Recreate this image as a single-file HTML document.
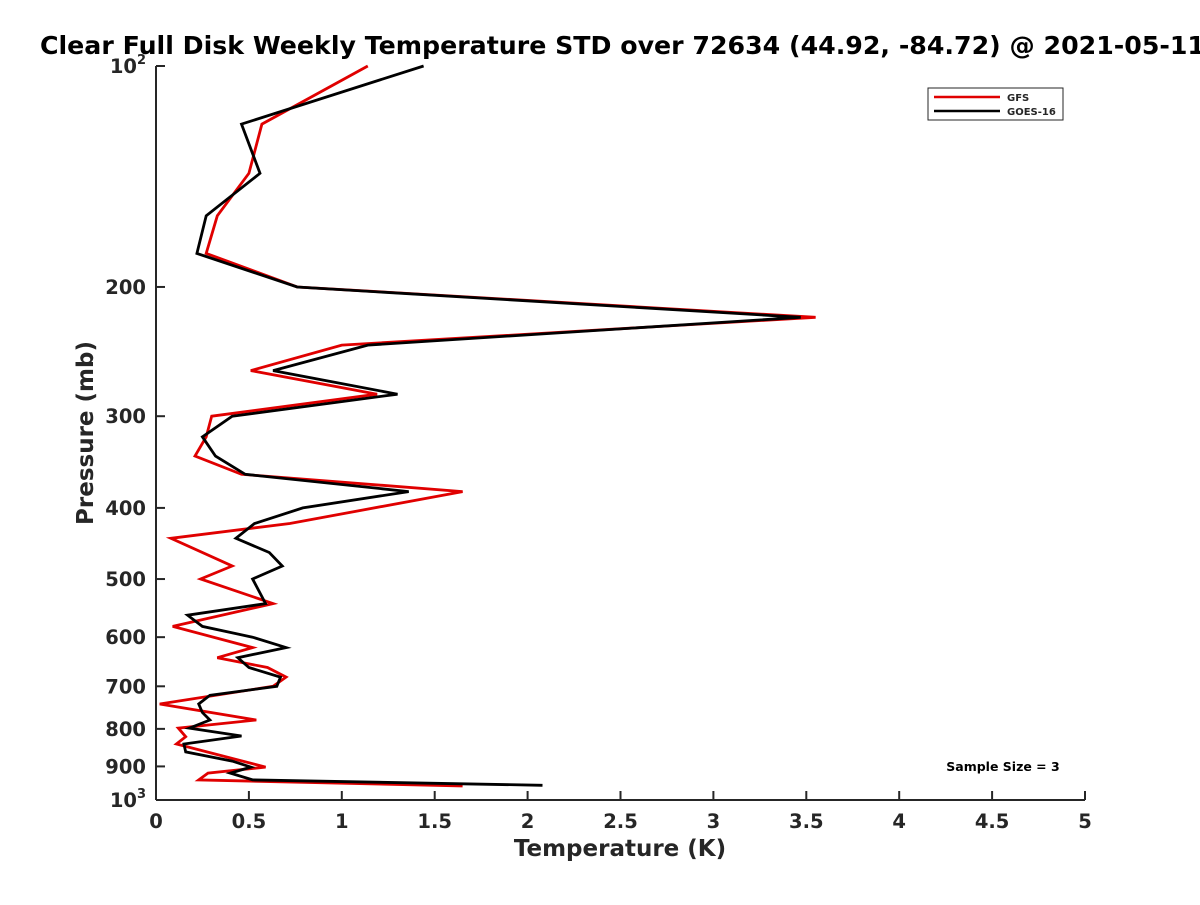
<!DOCTYPE html>
<html><head><meta charset="utf-8"><style>
body{margin:0;background:#fff;}
svg text{font-family:"DejaVu Sans","Liberation Sans",sans-serif;fill:#262626;font-weight:bold;}
</style></head><body>
<svg id="chart" width="1200" height="900">
<text x="40" y="54" text-anchor="start" font-size="25" textLength="1165" lengthAdjust="spacingAndGlyphs" style="fill:#000">Clear Full Disk Weekly Temperature STD over 72634 (44.92, -84.72) @ 2021-05-11</text>
<g id="axes"></g>
<g id="series"></g>
<g>
<rect x="928" y="88" width="135" height="32" fill="#fff" stroke="#262626" stroke-width="1"/>
<line x1="934" y1="97" x2="1000" y2="97" stroke="#e00000" stroke-width="2.5"/>
<text x="1007" y="101" font-size="10">GFS</text>
<line x1="934" y1="111" x2="1000" y2="111" stroke="#000" stroke-width="2.5"/>
<text x="1007" y="115" font-size="10">GOES-16</text>
</g>
<text x="1003" y="771" text-anchor="middle" font-size="12.5" style="fill:#000">Sample Size = 3</text>
</svg>
<script>
const gfsPressure=[100,120,140,160,180,200,220,240,260,280,300,320,340,360,380,420,440,480,500,540,580,620,640,660,680,700,740,778,798,820,839,902,919,939,957];
const gfsTemp=[1.14,0.57,0.50,0.33,0.27,0.76,3.55,1.00,0.51,1.19,0.30,0.27,0.21,0.46,1.65,0.72,0.08,0.41,0.24,0.63,0.09,0.52,0.33,0.60,0.70,0.63,0.02,0.54,0.12,0.16,0.11,0.59,0.28,0.23,1.65];
const goesPressure=[100,120,140,160,180,200,220,240,260,280,300,320,340,360,380,400,420,440,460,480,500,540,560,580,600,620,640,660,680,700,720,740,760,778,798,818,839,860,885,902,919,939,955];
const goesTemp=[1.44,0.46,0.56,0.27,0.22,0.76,3.47,1.14,0.63,1.30,0.41,0.25,0.32,0.48,1.36,0.79,0.53,0.43,0.61,0.68,0.52,0.59,0.17,0.25,0.52,0.70,0.44,0.50,0.67,0.65,0.29,0.23,0.25,0.29,0.18,0.46,0.15,0.16,0.41,0.51,0.40,0.52,2.08];
const xTicks=[0,0.5,1,1.5,2,2.5,3,3.5,4,4.5,5];
const xTickLabels=["0","0.5","1","1.5","2","2.5","3","3.5","4","4.5","5"];
const yTicks=[100,200,300,400,500,600,700,800,900,1000];

const NS="http://www.w3.org/2000/svg";
const X0=156,X1=1085,Y0=66,Y1=800;
const xs=v=>X0+(v-0)/5*(X1-X0);
const ys=p=>Y0+Math.log10(p/100)*(Y1-Y0);
function mk(tag,attrs,parent){const e=document.createElementNS(NS,tag);for(const k in attrs)e.setAttribute(k,attrs[k]);parent.appendChild(e);return e;}
const axes=document.getElementById('axes');
const xa=mk('line',{x1:X0,y1:Y1,x2:X1,y2:Y1,stroke:'#262626','stroke-width':2},axes);


const ya=mk('line',{x1:X0,y1:Y0,x2:X0,y2:Y1,stroke:'#262626','stroke-width':2},axes);


xTicks.forEach((v,i)=>{
  const t=mk('line',{x1:xs(v),y1:Y1,x2:xs(v),y2:Y1-9,stroke:'#262626','stroke-width':2},axes);
  
  
  const l=mk('text',{x:xs(v),y:Y1+28,'text-anchor':'middle','font-size':19.5},axes);
  l.textContent=xTickLabels[i];
  
  
});
yTicks.forEach(p=>{
  const t=mk('line',{x1:X0,y1:ys(p),x2:X0+9,y2:ys(p),stroke:'#262626','stroke-width':2},axes);
  
  
  const l=mk('text',{x:X0-10,y:ys(p)+7,'text-anchor':'end','font-size':19.5},axes);
  if(p===100||p===1000){
    l.textContent='10';
    const s=mk('tspan',{dy:-9,'font-size':13},l);s.textContent=p===100?'2':'3';
  } else l.textContent=String(p);
  
  
});
const xt=mk('text',{x:620,y:856,'text-anchor':'middle','font-size':23},axes);
xt.textContent='Temperature (K)';


const yt=mk('text',{x:93,y:433,'text-anchor':'middle','font-size':23,transform:'rotate(-90 93 433)'},axes);
yt.textContent='Pressure (mb)';


const ser=document.getElementById('series');
function line(P,T,color,name){
  const pts=P.map((p,i)=>xs(T[i]).toFixed(1)+','+ys(p).toFixed(1)).join(' ');
  const pl=mk('polyline',{points:pts,fill:'none',stroke:color,'stroke-width':2.8,'stroke-linejoin':'miter'},ser);
  
  
}
line(gfsPressure,gfsTemp,'#e00000','gfs-line');
line(goesPressure,goesTemp,'#000000','goes16-line');
</script>
</body></html>
